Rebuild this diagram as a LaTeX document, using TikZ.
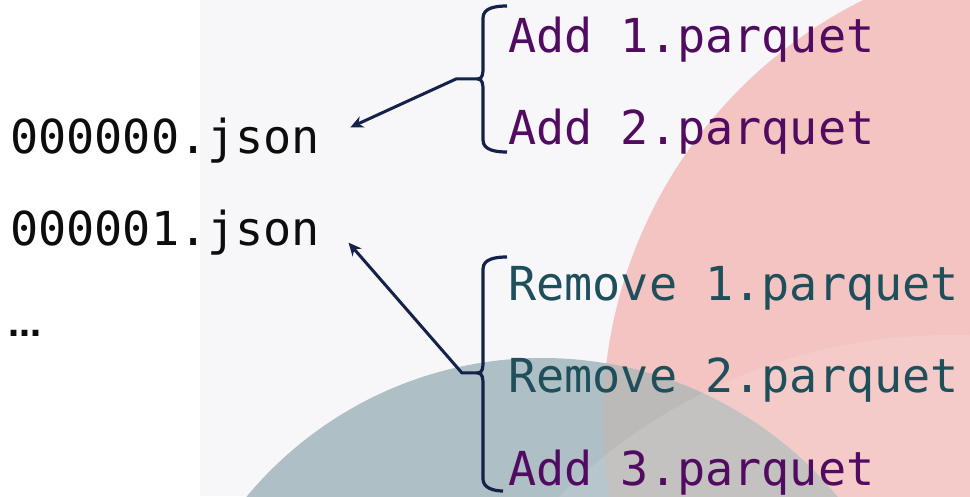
\documentclass[tikz,border=0pt]{standalone}
\usepackage{fontspec}
\setmonofont{DejaVu Sans Mono}
\newfontfamily\dotsfont{DejaVu Sans}
\usepackage{xcolor}
\usepackage{tikz}
\usetikzlibrary{arrows.meta}

\definecolor{panel}{HTML}{F7F7F9}
\definecolor{rose}{HTML}{F3C4C1}
\definecolor{slate}{HTML}{AEBFC5}
\definecolor{mixgray}{HTML}{BCBAB9}
\definecolor{addcol}{HTML}{510B61}
\definecolor{rmcol}{HTML}{1E4F5B}
\definecolor{navy}{HTML}{14224A}

\begin{document}
\begin{tikzpicture}[
  x=1pt, y=1pt,
  font=\ttfamily\fontsize{46.8}{56}\selectfont, >={Stealth[length=13pt,width=12pt]},
  file/.style={anchor=base west,inner sep=0pt,text=black!95},
  act/.style={anchor=base west,inner sep=0pt},
  brace/.style={draw=navy,line width=3.2pt},
  link/.style={->,draw=navy,line width=3pt}
]
\useasboundingbox (0,0) rectangle (970,496);
% backdrop: white strip, grey panel, two big discs
\fill[white] (0,0) rectangle (970,496);
\fill[panel] (200,0) rectangle (970,496);
\begin{scope}
  \clip (0,0) rectangle (970,496);
  \fill[rose] (1072,76) circle[radius=469];
  \fill[slate] (542,-246) circle[radius=384];
  \begin{scope}
    \clip (1072,76) circle[radius=469];
    \fill[mixgray] (542,-246) circle[radius=384];
  \end{scope}
  \fill[white,opacity=0.12] (950,-392) circle[radius=553];
\end{scope}

% log entries
\node[file] (j0) at (10,342) {000000.json};
\node[file] (j1) at (10,250) {000001.json};
\node[file] (more) at (8,159) {\dotsfont\bfseries\fontsize{33}{36}\selectfont …};

% actions of each commit
\node[act,text=addcol] (a1) at (508,443) {Add 1.parquet};
\node[act,text=addcol] (a2) at (508,351) {Add 2.parquet};
\node[act,text=rmcol] (r1) at (508,195) {Remove 1.parquet};
\node[act,text=rmcol] (r2) at (508,103) {Remove 2.parquet};
\node[act,text=addcol] (a3) at (508,11) {Add 3.parquet};

% braces
\draw[brace] (507,490) to[out=180,in=90] (483,478) -- (483,428) to[out=-90,in=0] (478,417) coordinate (tA)
  to[out=0,in=90] (483,406) -- (483,356) to[out=-90,in=180] (507,344);
\draw[brace] (507,239) to[out=180,in=90] (483,227) -- (483,134) to[out=-90,in=0] (478,123) coordinate (tB)
  to[out=0,in=90] (483,112) -- (483,17) to[out=-90,in=180] (503,5);

\draw[link,shorten >=33pt] (tA) -- ++(-22,0) -- (j0.east);
\draw[link,shorten >=43pt] (tB) -- ++(-16,0) -- (j1.north east);
\end{tikzpicture}
\end{document}
